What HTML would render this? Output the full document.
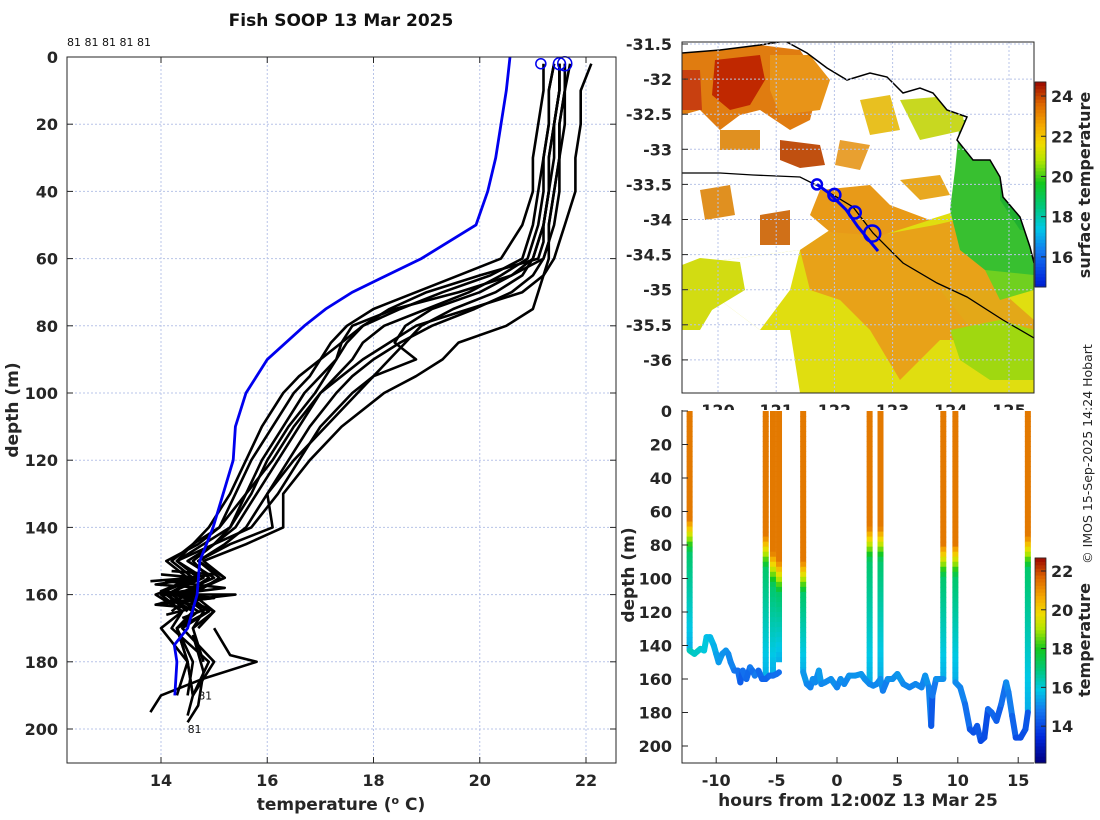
<!DOCTYPE html>
<html><head><meta charset="utf-8">
<style>
body{margin:0;background:#fff;}
svg{display:block;font-family:"DejaVu Sans","Liberation Sans",sans-serif;}
.tk{font-weight:bold;font-size:16px;fill:#262626;}
.lab{font-weight:bold;font-size:17px;fill:#262626;}
</style></head>
<body>
<svg id="fig" width="1100" height="820" viewBox="0 0 1100 820" xmlns="http://www.w3.org/2000/svg">
<text x="341" y="26" text-anchor="middle" style="font-weight:bold;font-size:17px;fill:#111">Fish SOOP 13 Mar 2025</text>
<text x="67" y="46" style="font-size:11px;fill:#111">81 81 81 81 81</text>
<g id="left"></g>
<g id="map"></g>
<g id="br"></g>
<text transform="translate(1092,454) rotate(-90)" text-anchor="middle" style="font-size:12.5px;fill:#262626">© IMOS 15-Sep-2025 14:24 Hobart</text>
</svg>
<script>
// ---------- data: left temperature profiles ----------
const profDepths=[2,10,20,30,40,50,55,60,65,70,75,80,85,90,95,100,110,120,130,140,145,150,155,160,165,170,180,190];
const prof1=[21.6,21.6,21.5,21.5,21.4,21.3,21.3,21.2,20.6,19.6,18.4,17.6,17.4,17.3,17.1,16.9,16.4,16.0,15.7,15.3,15.0,14.6,14.9,14.4,14.8,14.6];
const prof2=[21.5,21.5,21.4,21.4,21.3,21.2,21.2,21.1,20.0,19.0,18.3,17.8,17.5,17.3,17.0,16.7,16.3,15.9,15.6,15.3,14.8,14.3,14.7,14.1,14.6,14.3,14.6,14.5];
const prof3=[21.2,21.2,21.1,21.0,21.0,20.8,20.6,20.4,19.6,18.8,18.0,17.5,17.2,17.0,16.8,16.5,16.1,15.7,15.4,15.1,14.7,14.1,14.5,14.0,14.4,14.2,14.9,14.6];
const prof4=[21.6,21.6,21.6,21.5,21.5,21.4,21.3,21.3,21.2,20.8,19.8,18.8,18.3,17.8,17.4,17.0,16.5,16.1,15.6,15.1,14.6,14.2,14.6,14.2,14.7,14.3];
const prof5=[21.4,21.3,21.3,21.2,21.1,21.0,20.9,20.8,20.2,19.3,18.5,17.8,17.4,17.0,16.6,16.3,15.9,15.6,15.3,14.9,14.6,14.3,14.8,14.1,14.5];
const prof6=[21.7,21.6,21.5,21.5,21.4,21.3,21.3,21.2,21.0,20.6,19.9,19.1,18.5,18.0,17.6,17.3,16.8,16.4,16.0,16.1,15.3,14.7,15.2,14.4,14.9,14.4,15.0,14.6];
const prof7=[21.4,21.3,21.3,21.2,21.2,21.1,21.0,20.9,20.4,19.8,19.0,18.2,17.8,17.6,17.3,17.0,16.6,16.2,15.8,15.4,15.0,14.5,15.0,14.3,15.0,14.6,14.8];
const prof8=[22.1,21.9,21.9,21.8,21.8,21.6,21.5,21.4,21.2,21.1,21.0,20.5,19.6,19.3,18.8,18.2,17.4,16.8,16.3,16.3,15.6,14.8,15.2,14.5,14.9,14.3,14.5,14.6];
const prof9=[21.5,21.5,21.4,21.3,21.3,21.2,21.1,21.0,20.6,20.0,19.1,18.6,18.4,18.8,18.0,17.6,17.0,16.6,16.2,15.7,15.0,14.3,14.7,13.9,14.4,14.0,14.5,14.3];
const prof10=[21.5,21.5,21.4,21.3,21.3,21.2,21.1,21.0,20.8,20.3,19.5,18.9,18.6,18.3,18.0,17.7,17.1,16.5,16.0,15.6,15.2,14.7,15.1,14.6,15.0,14.7];
const profiles=[prof1,prof2,prof3,prof4,prof5,prof6,prof7,prof8,prof9,prof10];
const scribbleT1=[14.0,14.7,13.9,14.8,14.0,15.0,13.9,14.6,14.1], scribbleD1=[154,155,157,158,160,161,163,164,166];
const scribbleT2=[14.2,15.0,14.1,15.2,14.2,15.4,14.3,14.9,14.4], scribbleD2=[153,154,156,158,160,160,162,164,167];
const scribbleT3=[13.8,14.6,14.0,15.0,13.9,14.6,14.2], scribbleD3=[156,155,159,161,163,160,165];
const tailT1=[14.3,14.5,14.6,14.5], tailD1=[170,180,190,196];
const tailT2=[15.0,15.3,15.8,14.8,14.0,13.8], tailD2=[170,178,180,185,190,195];
const tailT3=[14.6,14.8,14.7,14.5], tailD3=[172,183,193,198];
const climDepths=[0,10,20,30,40,50,60,70,75,80,90,100,110,120,140,150,160,170,175,180,190];
const climTemps=[20.57,20.5,20.4,20.3,20.15,19.93,18.9,17.6,17.1,16.7,16.0,15.6,15.4,15.36,14.98,14.73,14.68,14.5,14.25,14.3,14.26];
const surfCircleT=[21.15,21.5,21.6], surfCircleR=[5,6,7];
const xTicksL=[14,16,18,20,22], yTicksL=[0,20,40,60,80,100,120,140,160,180,200];
// ---------- data: map ----------
const trackLon=[121.7,121.9,122.2,122.4,122.6,122.75];
const trackLat=[-33.5,-33.62,-33.86,-34.1,-34.3,-34.45];
const stnLon=[121.7,122.0,122.35,122.65], stnLat=[-33.5,-33.65,-33.9,-34.2], stnR=[5,6,6,8];
const latTicks=[-31.5,-32,-32.5,-33,-33.5,-34,-34.5,-35,-35.5,-36];
const lonTicks=[120,121,122,123,124,125];
const sstTicks=[16,18,20,22,24];
// ---------- data: section ----------
const castHours=[-12.2,-5.9,-5.3,-4.8,-2.8,2.7,3.6,8.8,9.8,15.8];
const castBottom=[143,160,157,150,156,163,160,160,162,180];
const castThermo=[75,85,95,100,100,80,80,90,90,85];
const botHours=[-12.2,-11.8,-11.3,-11,-10.8,-10.5,-10.2,-10,-9.8,-9.5,-9.2,-9,-8.8,-8.5,-8.2,-8,-7.8,-7.5,-7.2,-7,-6.8,-6.5,-6.2,-5.9,-5.6,-5.3,-5.0,-4.8];
const botDepths=[143,145,142,143,135,135,140,145,150,145,143,145,150,155,155,162,155,160,153,155,158,155,160,160,158,158,157,156];
const botHours2=[-2.8,-2.5,-2.2,-2,-1.8,-1.5,-1.3,-1,-0.5,0,0.3,0.6,1,1.5,2,2.3,2.7,3.0,3.3,3.6,3.8,4.2,4.6,5,5.5,6,6.5,7,7.3,7.6,7.8,7.9,8.2,8.8];
const botDepths2=[156,163,165,160,162,155,163,162,160,165,160,163,158,158,157,160,163,164,163,160,167,160,160,157,163,165,163,165,158,165,188,170,160,160];
const botHours3=[9.8,10.2,10.6,11,11.3,11.6,11.9,12.2,12.5,12.8,13.2,13.6,14,14.2,14.5,14.8,15.2,15.6,15.8];
const botDepths3=[162,165,175,190,192,188,197,195,178,180,185,175,162,168,182,195,195,190,180];
const botTemp1=[16.2,16.1,16.0,15.9,15.7,15.6,15.5,15.3,15.2,15.1,15.1,15.0,14.9,14.7,14.6,14.3,14.6,14.5,14.8,14.6,14.8,14.5,14.4,14.4,14.5,14.6,14.6,14.7];
const secTicksX=[-10,-5,0,5,10,15], secTicksY=[0,20,40,60,80,100,120,140,160,180,200], tempTicks=[14,16,18,20,22];

const NS='http://www.w3.org/2000/svg';
function mk(parent,tag,attrs){const e=document.createElementNS(NS,tag);for(const k in attrs)e.setAttribute(k,attrs[k]);parent.appendChild(e);return e;}
const cmStops=[[0,[0,0,130]],[0.12,[0,40,220]],[0.25,[20,120,240]],[0.35,[0,200,230]],[0.45,[0,200,120]],[0.55,[20,200,30]],[0.65,[180,230,0]],[0.72,[240,220,0]],[0.8,[245,170,0]],[0.9,[220,100,0]],[1,[150,0,0]]];
function cmap(v){v=Math.max(0,Math.min(1,v));for(let i=1;i<cmStops.length;i++){if(v<=cmStops[i][0]){const a=cmStops[i-1],b=cmStops[i],f=(v-a[0])/(b[0]-a[0]);const c=a[1].map((x,j)=>Math.round(x+(b[1][j]-x)*f));return `rgb(${c[0]},${c[1]},${c[2]})`;}}return 'rgb(150,0,0)';}

// ================= LEFT PANEL =================
const L=document.getElementById('left');
const xT=t=>161+(t-14)*53.125, yD=d=>57+d*3.36;
xTicksL.forEach(t=>{const g=mk(L,'line',{x1:xT(t),x2:xT(t),y1:57,y2:763,stroke:'#b8c4e8','stroke-dasharray':'2,2','stroke-width':1});
});
yTicksL.forEach(d=>{const g=mk(L,'line',{x1:67,x2:616,y1:yD(d),y2:yD(d),stroke:'#b8c4e8','stroke-dasharray':'2,2','stroke-width':1});
});
const pt=(ts,ds)=>ts.map((t,i)=>xT(t).toFixed(1)+','+yD(ds[i]).toFixed(1)).join(' ');
profiles.forEach((p,i)=>{const e=mk(L,'polyline',{points:pt(p,profDepths.slice(0,p.length)),fill:'none',stroke:'#000','stroke-width':2.6,'stroke-linejoin':'round'});
});
[[scribbleT1,scribbleD1],[scribbleT2,scribbleD2],[scribbleT3,scribbleD3],[tailT1,tailD1],[tailT2,tailD2],[tailT3,tailD3]].forEach(s=>{
const e=mk(L,'polyline',{points:pt(s[0],s[1]),fill:'none',stroke:'#000','stroke-width':2.6,'stroke-linejoin':'round'});
});
const cl=mk(L,'polyline',{points:pt(climTemps,climDepths),fill:'none',stroke:'#0000ee','stroke-width':2.8});

surfCircleT.forEach((t,i)=>{const c=mk(L,'circle',{cx:xT(t),cy:yD(2),r:surfCircleR[i],fill:'none',stroke:'#0000ee','stroke-width':1.5});
});
[[14.7,190,'81'],[14.5,200,'81']].forEach(a=>{const t=mk(L,'text',{x:xT(a[0]),y:yD(a[1])+4,style:'font-size:11px;fill:#111'});t.textContent=a[2];
});
const fr=mk(L,'rect',{x:67,y:57,width:549,height:706,fill:'none',stroke:'#262626','stroke-width':1});

xTicksL.forEach(t=>{mk(L,'line',{x1:xT(t),x2:xT(t),y1:763,y2:757,stroke:'#262626'});mk(L,'line',{x1:xT(t),x2:xT(t),y1:57,y2:63,stroke:'#262626'});
const e=mk(L,'text',{x:xT(t),y:786,'text-anchor':'middle',class:'tk'});e.textContent=t;
});
yTicksL.forEach(d=>{mk(L,'line',{x1:67,x2:73,y1:yD(d),y2:yD(d),stroke:'#262626'});mk(L,'line',{x1:616,x2:610,y1:yD(d),y2:yD(d),stroke:'#262626'});
const e=mk(L,'text',{x:58,y:yD(d)+6,'text-anchor':'end',class:'tk'});e.textContent=d;
});
let e=mk(L,'text',{x:341,y:810,'text-anchor':'middle',class:'lab'});e.innerHTML='temperature (<tspan dy="-6" font-size="11">o</tspan><tspan dy="6"> C)</tspan>';

e=mk(L,'text',{transform:'translate(18,410) rotate(-90)','text-anchor':'middle',class:'lab'});e.textContent='depth (m)';


// ================= MAP PANEL =================
const M=document.getElementById('map');
const xL=l=>718+(l-120)*58.2, yLa=a=>44+(-31.5-a)*70.2;
mk(M,'clipPath',{id:'mclip'}).appendChild(document.createElementNS(NS,'rect'));
const cr=M.querySelector('clipPath rect');cr.setAttribute('x',682);cr.setAttribute('y',42);cr.setAttribute('width',352);cr.setAttribute('height',351);
const R=mk(M,'g',{'clip-path':'url(#mclip)'});

const poly=(pts,col)=>{const p=mk(R,'polygon',{points:pts,fill:col});};
poly('682,265 740,258 800,250 830,230 880,235 960,210 1000,180 1034,180 1034,393 682,393 682,330 700,300','#e0de10');
poly('682,393 682,300 720,300 760,330 790,330 800,393','#fff');
poly('740,258 682,265 682,300 720,300 760,330 790,290 800,250','#fff');
poly('682,265 700,258 740,262 745,290 712,310 700,330 682,330','#d2dc12');
poly('800,250 830,230 880,235 935,225 1000,210 1005,290 980,340 940,340 900,380 870,330 840,300 810,290','#e8a218');
poly('820,190 870,185 890,205 930,220 880,236 830,232 810,215','#e89a18');
poly('940,290 1000,290 1034,320 1034,350 980,340','#e3a818');
poly('960,120 985,120 1000,160 1034,240 1034,275 1010,280 985,270 960,250 950,210 955,170','#38c030');
poly('985,270 1034,275 1034,290 1000,300','#70d020');
poly('950,330 1000,320 1034,330 1034,380 990,380 960,360','#a0d810');
poly('1000,150 1020,170 1034,230 1020,230 1000,200','#20b030');
poly('682,52 760,45 800,50 820,80 810,120 790,130 760,110 740,115 720,130 700,110 682,115','#e07c10');
poly('715,60 760,55 765,80 750,105 730,110 712,95','#c02800');
poly('770,55 810,55 830,80 820,110 780,115 770,90','#e89418');
poly('682,70 700,70 702,110 682,110','#c84010');
poly('780,140 820,145 825,165 800,168 780,160','#c05010');
poly('700,190 730,185 735,215 705,220','#e09020');
poly('760,215 790,210 790,245 760,245','#d07018');
poly('860,100 890,95 900,130 870,135','#e8c020');
poly('900,100 960,95 965,130 920,140','#c8d820');
poly('840,140 870,145 860,170 835,165','#e8a030');
poly('720,130 760,130 760,150 720,150','#e09020');
poly('900,180 940,175 950,195 920,200','#e8a820');
const land=mk(R,'polygon',{points:'682,42 682,53 720,50 760,45 785,41 807,53 827,68 847,80 870,73 887,77 903,93 920,88 933,93 947,110 967,117 957,140 973,160 990,160 1000,177 1003,197 1020,217 1030,247 1034,263 1034,42',fill:'#fff'});

const coast=mk(R,'polyline',{points:'682,53 720,50 760,45 785,41 807,53 827,68 847,80 870,73 887,77 903,93 920,88 933,93 947,110 967,117 957,140 973,160 990,160 1000,177 1003,197 1020,217 1030,247 1034,263',fill:'none',stroke:'#000','stroke-width':1.5});

const shelf=mk(R,'polyline',{points:'682,173 720,173 753,175 800,177 820,187 853,207 873,233 903,263 937,283 967,297 1003,320 1034,338',fill:'none',stroke:'#000','stroke-width':1.3});

latTicks.forEach(a=>{const g=mk(M,'line',{x1:682,x2:1034,y1:yLa(a),y2:yLa(a),stroke:'#b8c4e8','stroke-dasharray':'2,2'});});
lonTicks.forEach(l=>{const g=mk(M,'line',{x1:xL(l),x2:xL(l),y1:42,y2:393,stroke:'#b8c4e8','stroke-dasharray':'2,2'});});
const tr=mk(M,'polyline',{points:trackLon.map((l,i)=>xL(l).toFixed(1)+','+yLa(trackLat[i]).toFixed(1)).join(' '),fill:'none',stroke:'#0000ee','stroke-width':3});

stnLon.forEach((l,i)=>{const c=mk(M,'circle',{cx:xL(l),cy:yLa(stnLat[i]),r:stnR[i],fill:'none',stroke:'#0000ee','stroke-width':2.5});});
const mf=mk(M,'rect',{x:682,y:42,width:352,height:351,fill:'none',stroke:'#262626'});
latTicks.forEach(a=>{mk(M,'line',{x1:682,x2:688,y1:yLa(a),y2:yLa(a),stroke:'#262626'});
const t=mk(M,'text',{x:672,y:yLa(a)+6,'text-anchor':'end',class:'tk'});t.textContent=a;});
lonTicks.forEach(l=>{const t=mk(M,'text',{x:xL(l),y:416,'text-anchor':'middle',class:'tk'});t.textContent=l;});
const sMin=14.5,sMax=24.7,ySst=v=>287-(v-sMin)/(sMax-sMin)*205;
for(let i=0;i<60;i++){const v0=sMin+(sMax-sMin)*i/60;mk(M,'rect',{x:1035,y:ySst(v0+(sMax-sMin)/60)-0.5,width:11,height:205/60+1,fill:cmap(0.1+0.9*(v0-sMin)/(sMax-sMin))});}
const cb=mk(M,'rect',{x:1035,y:82,width:11,height:205,fill:'none',stroke:'#262626','stroke-width':0.8});
sstTicks.forEach(v=>{mk(M,'line',{x1:1041,x2:1046,y1:ySst(v),y2:ySst(v),stroke:'#262626'});const t=mk(M,'text',{x:1051,y:ySst(v)+6,class:'tk'});t.textContent=v;});
e=mk(M,'text',{transform:'translate(1090,185) rotate(-90)','text-anchor':'middle',class:'lab',style:'font-size:16px'});e.textContent='surface temperature';


// ================= SECTION PANEL =================
const B=document.getElementById('br');
mk(B,'rect',{x:682,y:410,width:352,height:353,fill:'#fff'});
const xH=h=>837+h*12.08, yB=d=>411+d*1.675;
const tMin=12.1,tMax=22.67, tc=v=>cmap((v-tMin)/(tMax-tMin));
function castTemp(d,th,bot){ if(d<th-12) return 21.3; if(d<th+8) return 21.3-(d-(th-12))/20*4.3; return 17.0-(d-th-8)/Math.max(1,bot-th-8)*1.6; }
castHours.forEach((h,i)=>{const g=mk(B,'g',{});
for(let d=0;d<castBottom[i];d+=3){mk(g,'line',{x1:xH(h),x2:xH(h),y1:yB(d),y2:yB(Math.min(d+3.5,castBottom[i])),stroke:tc(castTemp(d,castThermo[i],castBottom[i])),'stroke-width':6});}});
[[botHours,botDepths],[botHours2,botDepths2],[botHours3,botDepths3]].forEach((s,k)=>{const g=mk(B,'g',{});
for(let i=0;i<s[0].length-1;i++){const T=k===0?botTemp1[i]:(15.2-(s[1][i]-155)/40*1.2);mk(g,'line',{x1:xH(s[0][i]),y1:yB(s[1][i]),x2:xH(s[0][i+1]),y2:yB(s[1][i+1]),stroke:tc(T),'stroke-width':6,'stroke-linecap':'round'});}});
const bf=mk(B,'polyline',{points:'682,410 682,763 1034,763',fill:'none',stroke:'#262626'});
secTicksX.forEach(h=>{mk(B,'line',{x1:xH(h),x2:xH(h),y1:763,y2:757,stroke:'#262626'});const t=mk(B,'text',{x:xH(h),y:786,'text-anchor':'middle',class:'tk'});t.textContent=h;});
secTicksY.forEach(d=>{mk(B,'line',{x1:682,x2:688,y1:yB(d),y2:yB(d),stroke:'#262626'});const t=mk(B,'text',{x:672,y:yB(d)+6,'text-anchor':'end',class:'tk'});t.textContent=d;});
e=mk(B,'text',{x:858,y:806,'text-anchor':'middle',class:'lab'});e.textContent='hours from 12:00Z 13 Mar 25';
e=mk(B,'text',{transform:'translate(634,575) rotate(-90)','text-anchor':'middle',class:'lab'});e.textContent='depth (m)';
const yTc=v=>763-(v-tMin)/(tMax-tMin)*205;
for(let i=0;i<60;i++){const v0=tMin+(tMax-tMin)*i/60;mk(B,'rect',{x:1035,y:yTc(v0+(tMax-tMin)/60)-0.5,width:11,height:205/60+1,fill:tc(v0)});}
const cb2=mk(B,'rect',{x:1035,y:558,width:11,height:205,fill:'none',stroke:'#262626','stroke-width':0.8});
tempTicks.forEach(v=>{mk(B,'line',{x1:1041,x2:1046,y1:yTc(v),y2:yTc(v),stroke:'#262626'});const t=mk(B,'text',{x:1051,y:yTc(v)+6,class:'tk'});t.textContent=v;});
e=mk(B,'text',{transform:'translate(1090,640) rotate(-90)','text-anchor':'middle',class:'lab',style:'font-size:16px'});e.textContent='temperature';
</script>
</body></html>
